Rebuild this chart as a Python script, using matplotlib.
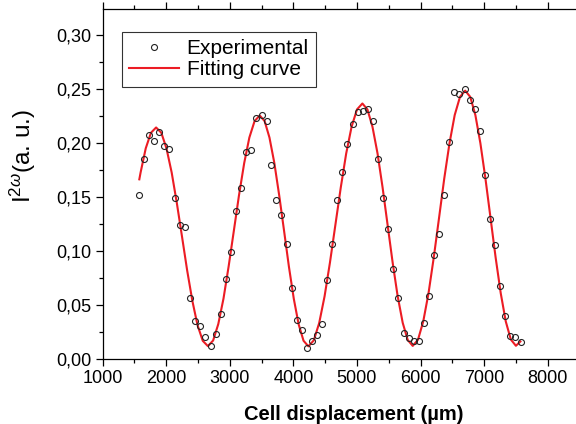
import matplotlib
matplotlib.use("Agg")
import matplotlib.pyplot as plt
from matplotlib.ticker import MultipleLocator, FuncFormatter

plt.rcParams['font.family'] = ['Liberation Sans', 'DejaVu Sans']
plt.rcParams['mathtext.fontset'] = 'custom'
plt.rcParams['mathtext.rm'] = 'Liberation Sans'
plt.rcParams['mathtext.it'] = 'Liberation Sans:italic'

# measured points (cell displacement in um, SHG intensity in a.u.)
exp_x = [1576, 1655, 1733, 1812, 1891, 1969, 2048, 2133, 2211, 2290,
         2369, 2447, 2531, 2614, 2699, 2777, 2856, 2935, 3014, 3092,
         3176, 3254, 3338, 3412, 3501, 3580, 3652, 3731, 3810, 3894,
         3973, 4052, 4135, 4214, 4292, 4376, 4455, 4533, 4612, 4691,
         4769, 4848, 4933, 5011, 5090, 5178, 5257, 5336, 5414, 5493,
         5572, 5651, 5735, 5818, 5897, 5976, 6054, 6133, 6217, 6295,
         6374, 6453, 6531, 6610, 6694, 6773, 6852, 6935, 7014, 7093,
         7171, 7250, 7333, 7412, 7491, 7575]
exp_y = [0.152, 0.185, 0.208, 0.202, 0.210, 0.197, 0.1945, 0.1495, 0.124, 0.1224,
         0.057, 0.035, 0.0305, 0.0206, 0.0126, 0.0234, 0.042, 0.074, 0.099, 0.1375,
         0.1585, 0.1915, 0.194, 0.223, 0.2257, 0.2207, 0.180, 0.1474, 0.134, 0.107,
         0.066, 0.0364, 0.027, 0.0107, 0.0169, 0.0225, 0.0327, 0.0736, 0.1067, 0.1476,
         0.1736, 0.199, 0.218, 0.2285, 0.230, 0.232, 0.221, 0.185, 0.1495, 0.1205,
         0.084, 0.0564, 0.024, 0.020, 0.0172, 0.0172, 0.0339, 0.0586, 0.0968, 0.1159,
         0.152, 0.2007, 0.247, 0.2454, 0.250, 0.2396, 0.2318, 0.2112, 0.1702, 0.130,
         0.1055, 0.0681, 0.0403, 0.0218, 0.0204, 0.0163]

# fitted curve
fit_x = [1576, 1596, 1677, 1759, 1840, 1922, 2003, 2085, 2166, 2248,
         2329, 2411, 2492, 2574, 2655, 2737, 2818, 2900, 2981, 3063,
         3144, 3226, 3307, 3389, 3470, 3547, 3623, 3700, 3776, 3853,
         3929, 4006, 4082, 4159, 4235, 4320, 4405, 4490, 4575, 4660,
         4745, 4830, 4915, 5000, 5085, 5164, 5243, 5323, 5402, 5481,
         5560, 5639, 5719, 5798, 5877, 5960, 6042, 6125, 6207, 6290,
         6372, 6455, 6537, 6620, 6702, 6782, 6862, 6941, 7021, 7101,
         7181, 7261, 7340, 7420, 7500, 7570]
fit_y = [0.1666, 0.1729, 0.1953, 0.2097, 0.2146, 0.2097, 0.1953, 0.1729, 0.1447, 0.1134,
         0.0821, 0.0539, 0.0315, 0.0171, 0.0122, 0.0174, 0.0326, 0.0562, 0.0860, 0.1190,
         0.1519, 0.1817, 0.2053, 0.2205, 0.2257, 0.2205, 0.2053, 0.1817, 0.1519, 0.1189,
         0.0858, 0.0560, 0.0324, 0.0172, 0.0120, 0.0175, 0.0335, 0.0583, 0.0897, 0.1244,
         0.1591, 0.1905, 0.2153, 0.2313, 0.2368, 0.2313, 0.2154, 0.1906, 0.1593, 0.1246,
         0.0899, 0.0587, 0.0338, 0.0179, 0.0124, 0.0182, 0.0350, 0.0611, 0.0940, 0.1306,
         0.1671, 0.2000, 0.2261, 0.2429, 0.2487, 0.2429, 0.2261, 0.2000, 0.1671, 0.1306,
         0.0941, 0.0612, 0.0351, 0.0183, 0.0125, 0.0165]

fig = plt.figure(figsize=(5.76, 4.24), dpi=100)
ax = fig.add_axes([102.7 / 576, 1 - 359.3 / 424, 476.8 / 576, 350 / 424])

ax.plot(fit_x, fit_y, color='#ec1c24', lw=1.5, label='Fitting curve', zorder=2)
ax.plot(exp_x, exp_y, ls='none', marker='o', ms=4.3, mfc='none', mec='#222222',
        mew=0.8, label='Experimental', zorder=3)

ax.set_xlim(1000, 8500)
ax.set_ylim(0, 0.324)
ax.xaxis.set_major_locator(MultipleLocator(1000))
ax.xaxis.set_minor_locator(MultipleLocator(500))
ax.yaxis.set_major_locator(MultipleLocator(0.05))
ax.yaxis.set_minor_locator(MultipleLocator(0.025))
ax.yaxis.set_major_formatter(FuncFormatter(lambda v, p: f"{v:.2f}".replace('.', ',')))

for s in ax.spines.values():
    s.set_linewidth(0.9)
ax.tick_params(which='both', direction='out', top=True, labelsize=13, width=0.9, pad=3)
ax.tick_params(which='major', length=5)
ax.tick_params(which='minor', length=3)

ax.set_xlabel('Cell displacement (µm)', fontsize=14.5, fontweight='bold')
ax.xaxis.set_label_coords(0.527, -0.13)
ax.set_ylabel(r'I$^{2\omega}$(a. u.)', fontsize=17.5)
ax.yaxis.set_label_coords(-0.135, 0.58)

h, l = ax.get_legend_handles_labels()
leg = ax.legend(h[::-1], l[::-1], loc='upper left', bbox_to_anchor=(0.0405, 0.936),
                borderaxespad=0, fontsize=15, frameon=True, fancybox=False,
                handlelength=2.4, handletextpad=0.35, borderpad=0.35,
                labelspacing=0.12)
leg.get_frame().set_edgecolor('black')
leg.get_frame().set_linewidth(0.8)

fig.savefig('out.png', dpi=100)
